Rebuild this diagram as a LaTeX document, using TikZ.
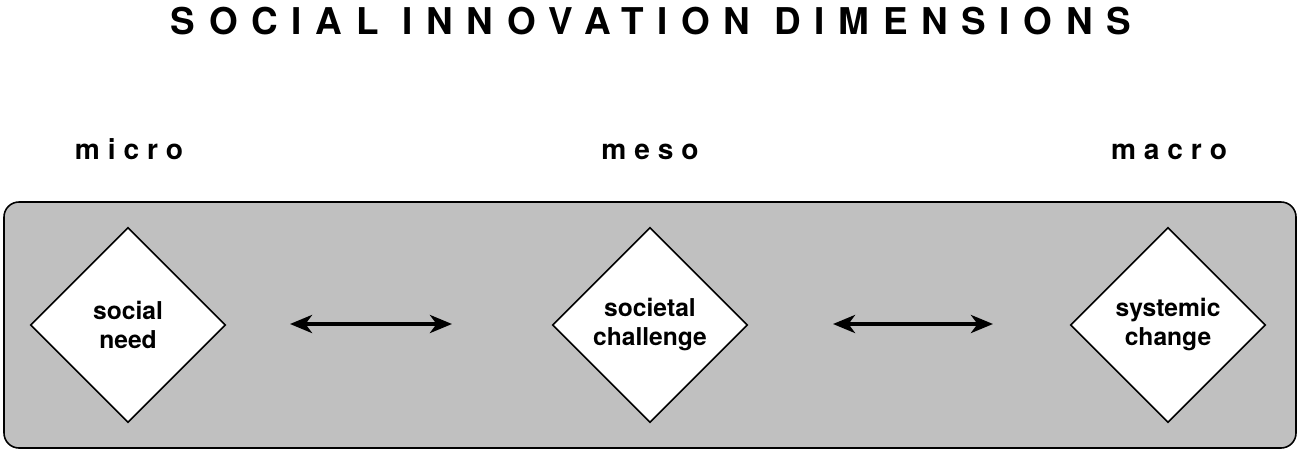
\documentclass[tikz,border=0pt]{standalone}
\usepackage{fontspec}
\setmainfont{TeX Gyre Heros}
\newfontfamily\titlefont[LetterSpace=37]{TeX Gyre Heros}
\newfontfamily\spacedfont[LetterSpace=28]{TeX Gyre Heros}
\usetikzlibrary{arrows.meta,shapes.geometric}

\begin{document}
\begin{tikzpicture}[line width=0.9pt,>={Stealth[length=4.4mm,width=3.6mm,inset=1.3mm]},
  dimbox/.style={diamond,draw,fill=white,aspect=1,inner sep=0pt,
    minimum width=3.9cm,minimum height=3.9cm,align=center,
    font=\fontsize{14}{16.5}\selectfont\bfseries},
  level/.style={anchor=base,font=\spacedfont\fontsize{16}{18}\selectfont\bfseries}]
  \useasboundingbox (0,0) rectangle (26,-9.06);
  \node (title) at (13.02,-0.42)
    {\titlefont\fontsize{21}{24}\selectfont\bfseries SOCIAL INNOVATION DIMENSIONS};
  \draw[fill={rgb,255:red,192;green,192;blue,192},rounded corners=0.3cm]
    (0.08,-4.04) rectangle (25.92,-8.96);     % fondo gris
  \node[dimbox] (need) at (2.56,-6.5) {social\\need};
  \node[dimbox] (challenge) at (13.0,-6.5) {societal\\challenge};
  \node[dimbox] (change) at (23.36,-6.5) {systemic\\change};
  \node[level] (micro) at (2.58,-3.18) {micro};
  \node[level] (meso) at (13.0,-3.18) {meso};
  \node[level] (macro) at (23.38,-3.18) {macro};
  \coordinate (a1) at (5.8,-6.48);  \coordinate (b1) at (9.04,-6.48);
  \coordinate (a2) at (16.66,-6.48); \coordinate (b2) at (19.86,-6.48);
  \draw[<->,line width=2.2pt] (a1)--(b1);
  \draw[<->,line width=2.2pt] (a2)--(b2);
\end{tikzpicture}
\end{document}
